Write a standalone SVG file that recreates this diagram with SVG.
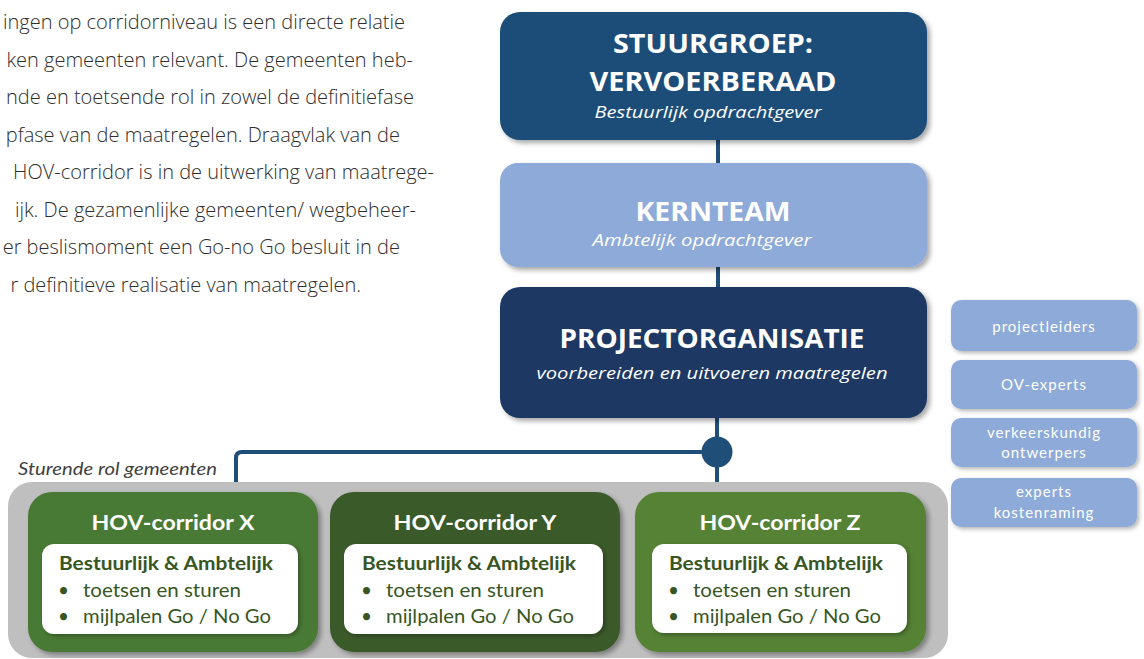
<svg xmlns="http://www.w3.org/2000/svg" width="1144" height="659" viewBox="0 0 1144 659">
<defs>
<filter id="sh" x="-10%" y="-10%" width="125%" height="130%">
<feDropShadow dx="3" dy="3" stdDeviation="2.5" flood-color="#000" flood-opacity="0.35"/>
</filter>
<filter id="sh2" x="-10%" y="-10%" width="125%" height="130%">
<feDropShadow dx="2" dy="2" stdDeviation="2" flood-color="#000" flood-opacity="0.3"/>
</filter>
</defs>
<style>
.body{font-family:"Open Sans","Liberation Sans",sans-serif;font-weight:300;font-size:20px;fill:#2e2e2e;text-anchor:end}
.ht{font-family:"Open Sans","Liberation Sans",sans-serif;font-weight:700;font-size:27px;fill:#fff;text-anchor:middle}
.hs{font-family:"Open Sans","Liberation Sans",sans-serif;font-style:italic;font-size:17px;fill:#fff;text-anchor:middle}
.side{font-family:Lato,"Open Sans",sans-serif;font-size:15px;fill:#fff;text-anchor:middle;letter-spacing:1px}
.gt{font-family:Lato,"Open Sans",sans-serif;font-weight:700;font-size:21px;fill:#fff;text-anchor:middle}
.wb{font-family:Lato,"Open Sans",sans-serif;font-weight:700;font-size:19px;fill:#375623}
.wl{font-family:Lato,"Open Sans",sans-serif;font-size:19px;fill:#375623}
.lab{font-family:Lato,"Open Sans",sans-serif;font-style:italic;font-size:17px;fill:#404040}
.con{stroke:#1f4e79;stroke-width:4;fill:none}
</style>

<g id="bodytext">
<text class="body" x="405" y="29">ingen op corridorniveau is een directe relatie</text>
<text class="body" x="413" y="67">ken gemeenten relevant. De gemeenten heb-</text>
<text class="body" x="414" y="104">nde en toetsende rol in zowel de definitiefase</text>
<text class="body" x="400" y="142">pfase van de maatregelen. Draagvlak van de</text>
<text class="body" x="434" y="179">HOV-corridor is in de uitwerking van maatrege-</text>
<text class="body" x="416" y="217">ijk. De gezamenlijke gemeenten/ wegbeheer-</text>
<text class="body" x="400" y="254">er beslismoment een Go-no Go besluit in de</text>
<text class="body" x="361" y="292">r definitieve realisatie van maatregelen.</text>
</g>

<g id="connectors">
<line class="con" x1="718" y1="138" x2="718" y2="165"/>
<line class="con" x1="718" y1="265" x2="718" y2="289"/>
<line class="con" x1="717" y1="416" x2="717" y2="484"/>
<path class="con" d="M717 452 H242 Q236 452 236 458 V484"/>
<circle cx="717" cy="452" r="15.5" fill="#1f4e79"/>
</g>

<g id="stuurgroep">
<rect x="500" y="12" width="427" height="128" rx="20" fill="#1f4e79" filter="url(#sh)"/>
<text class="ht" x="713" y="53" textLength="200" lengthAdjust="spacingAndGlyphs">STUURGROEP:</text>
<text class="ht" x="713" y="91" textLength="247" lengthAdjust="spacingAndGlyphs">VERVOERBERAAD</text>
<text class="hs" x="708" y="118" textLength="227" lengthAdjust="spacingAndGlyphs">Bestuurlijk opdrachtgever</text>
</g>

<g id="kernteam">
<rect x="500" y="163" width="427" height="104" rx="18" fill="#8eaad8" filter="url(#sh)"/>
<text class="ht" x="713" y="221" font-size="26" textLength="155" lengthAdjust="spacingAndGlyphs">KERNTEAM</text>
<text class="hs" x="702" y="246" font-size="16.5" textLength="219" lengthAdjust="spacingAndGlyphs">Ambtelijk opdrachtgever</text>
</g>

<g id="projectorganisatie">
<rect x="500" y="287" width="427" height="131" rx="20" fill="#1c3864" filter="url(#sh)"/>
<text class="ht" x="712" y="348" textLength="305" lengthAdjust="spacingAndGlyphs">PROJECTORGANISATIE</text>
<text class="hs" x="712" y="379" font-size="18" textLength="351" lengthAdjust="spacingAndGlyphs">voorbereiden en uitvoeren maatregelen</text>
</g>

<g id="projectleiders">
<rect x="951" y="300" width="186" height="51" rx="10" fill="#8eaad8" filter="url(#sh2)"/>
<text class="side" x="1044" y="332">projectleiders</text>
</g>
<g id="ov-experts">
<rect x="951" y="360" width="186" height="49" rx="10" fill="#8eaad8" filter="url(#sh2)"/>
<text class="side" x="1044" y="390">OV-experts</text>
</g>
<g id="verkeerskundig">
<rect x="951" y="418" width="186" height="49" rx="10" fill="#8eaad8" filter="url(#sh2)"/>
<text class="side" x="1044" y="438">verkeerskundig</text>
<text class="side" x="1044" y="458">ontwerpers</text>
</g>
<g id="kostenraming">
<rect x="951" y="478" width="186" height="49" rx="10" fill="#8eaad8" filter="url(#sh2)"/>
<text class="side" x="1044" y="497">experts</text>
<text class="side" x="1044" y="518">kostenraming</text>
</g>

<g id="gemeenten">
<text class="lab" x="18" y="475" textLength="199" lengthAdjust="spacingAndGlyphs">Sturende rol gemeenten</text>
<rect x="8" y="482" width="940" height="176" rx="24" fill="#bfbfbf"/>
</g>

<g id="corridor-x">
<rect x="28" y="492" width="290" height="160" rx="24" fill="#4a7a36" filter="url(#sh)"/>
<text class="gt" x="173" y="530" textLength="163" lengthAdjust="spacingAndGlyphs">HOV-corridor X</text>
<rect x="42" y="544" width="256" height="90" rx="12" fill="#fff" filter="url(#sh2)"/>
<text class="wb" x="59" y="570" textLength="214" lengthAdjust="spacingAndGlyphs">Bestuurlijk &amp; Ambtelijk</text>
<text class="wl" x="58" y="597">•</text>
<text class="wl" x="83" y="597" textLength="158" lengthAdjust="spacingAndGlyphs">toetsen en sturen</text>
<text class="wl" x="58" y="623">•</text>
<text class="wl" x="83" y="623" textLength="188" lengthAdjust="spacingAndGlyphs">mijlpalen Go / No Go</text>
</g>

<g id="corridor-y">
<rect x="330" y="492" width="290" height="160" rx="24" fill="#3b5a2a" filter="url(#sh)"/>
<text class="gt" x="475" y="530" textLength="163" lengthAdjust="spacingAndGlyphs">HOV-corridor Y</text>
<rect x="344" y="544" width="259" height="90" rx="12" fill="#fff" filter="url(#sh2)"/>
<text class="wb" x="362" y="570" textLength="214" lengthAdjust="spacingAndGlyphs">Bestuurlijk &amp; Ambtelijk</text>
<text class="wl" x="361" y="597">•</text>
<text class="wl" x="386" y="597" textLength="158" lengthAdjust="spacingAndGlyphs">toetsen en sturen</text>
<text class="wl" x="361" y="623">•</text>
<text class="wl" x="386" y="623" textLength="188" lengthAdjust="spacingAndGlyphs">mijlpalen Go / No Go</text>
</g>

<g id="corridor-z">
<rect x="635" y="492" width="291" height="160" rx="24" fill="#548235" filter="url(#sh)"/>
<text class="gt" x="780" y="530" textLength="161" lengthAdjust="spacingAndGlyphs">HOV-corridor Z</text>
<rect x="652" y="544" width="255" height="89" rx="12" fill="#fff" filter="url(#sh2)"/>
<text class="wb" x="669" y="570" textLength="214" lengthAdjust="spacingAndGlyphs">Bestuurlijk &amp; Ambtelijk</text>
<text class="wl" x="668" y="597">•</text>
<text class="wl" x="693" y="597" textLength="158" lengthAdjust="spacingAndGlyphs">toetsen en sturen</text>
<text class="wl" x="668" y="623">•</text>
<text class="wl" x="693" y="623" textLength="188" lengthAdjust="spacingAndGlyphs">mijlpalen Go / No Go</text>
</g>
</svg>
